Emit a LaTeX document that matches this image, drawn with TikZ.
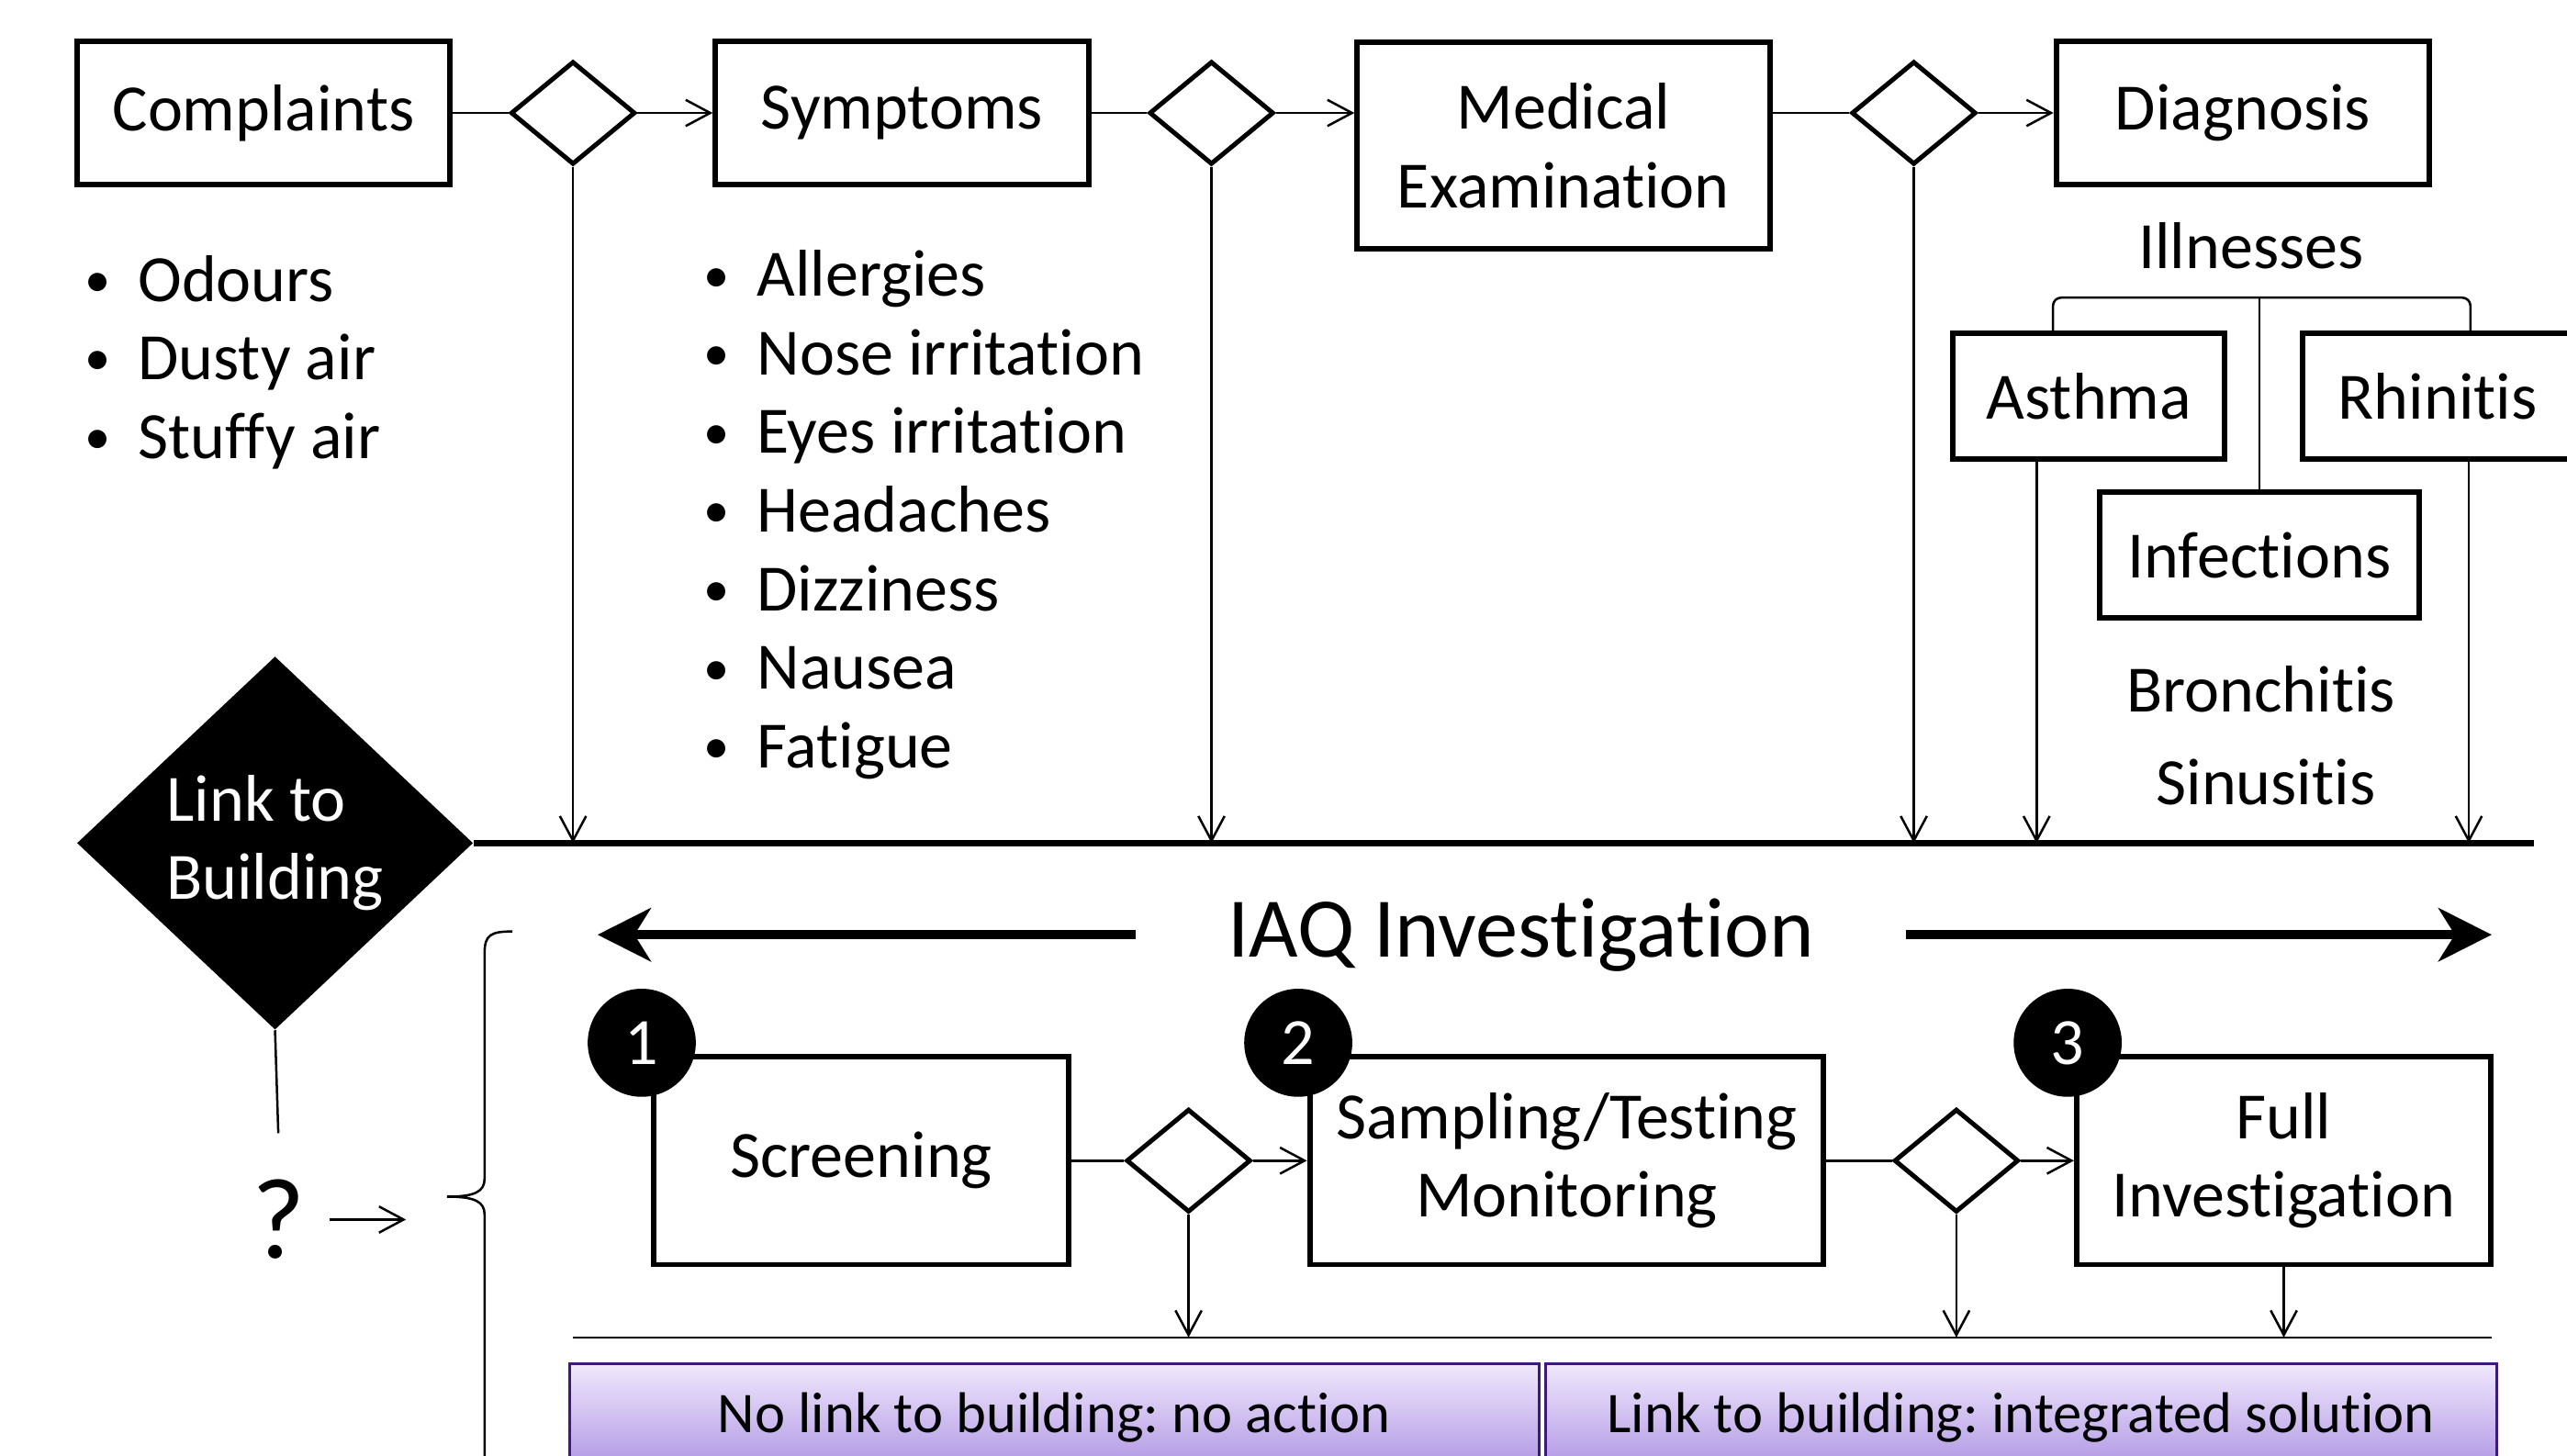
\documentclass[tikz,border=0pt]{standalone}
\usepackage{fontspec}
\setmainfont{Carlito}[Ligatures=NoCommon]
\usetikzlibrary{shapes.geometric,arrows.meta}
\definecolor{lavtop}{HTML}{F0E8FD}
\definecolor{lavbot}{HTML}{AE94E2}
\definecolor{lavline}{HTML}{3C1A78}
\newcommand{\dotmark}{\llap{\raisebox{1.5pt}{\fontsize{18}{18}\selectfont\textbullet}\hspace{.42em}}}
\frenchspacing
\begin{document}
\begin{tikzpicture}
  [x=0.2mm,y=-0.2mm,>={Straight Barb[length=3mm,width=3.2mm]},
   every node/.style={font=\fontsize{23}{27.3}\selectfont}]
  \tikzstyle{box} = [draw,line width=1.9pt,align=center,inner sep=0pt]
  \tikzstyle{stage} = [box,minimum width=45.6mm,minimum height=17.4mm]
  \tikzstyle{phase} = [box,minimum width=50.6mm,minimum height=25.4mm]
  \tikzstyle{illbox} = [box,minimum height=15.4mm]
  \tikzstyle{choice} = [diamond,draw,line width=1.6pt,minimum width=15.2mm,minimum height=12.6mm,inner sep=0pt]
  \tikzstyle{conn} = [line width=0.8pt]
  \tikzstyle{mainline} = [line width=2.2pt]
  \tikzstyle{bigarrow} = [line width=3pt,-{Stealth[length=6.5mm,width=6.5mm,inset=2mm]}]
  \tikzstyle{listitem} = [anchor=base west,inner sep=0pt]
  \tikzstyle{num} = [circle,fill=black,text=white,minimum size=13.2mm,inner sep=0pt]
  \tikzstyle{outcome} = [draw=lavline,line width=1pt,top color=lavtop,bottom color=lavbot,minimum height=13.2mm,inner sep=0pt,font=\fontsize{20}{24}\selectfont]
  \useasboundingbox (0,0) rectangle (1568,889);

  \node[stage] (compl) at (161,69) {Complaints};
  \node[stage] (sympt) at (551,69) {Symptoms};
  \node[box,minimum width=50.4mm,minimum height=25.2mm] (med) at (955,89) {Medical\\Examination};
  \node[stage] (diag) at (1370,69) {Diagnosis};
  \foreach \n/\x/\y in {d1/350/69,d2/740/69,d3/1169/69,d4/726/709,d5/1195/709}
    \node[choice] (\n) at (\x,\y) {};

  \foreach \entry [count=\i] in {Odours,Dusty air,Stuffy air}
    \node[listitem] at (84,136+48*\i) {\dotmark\entry};
  \foreach \entry [count=\i] in {Allergies,Nose irritation,Eyes irritation,Headaches,Dizziness,Nausea,Fatigue}
    \node[listitem] at (462,133+48*\i) {\dotmark\entry};

  \node (ill) at (1375,150) {Illnesses};
  \node[illbox,minimum width=33.2mm] (asth) at (1276,242) {Asthma};
  \node[illbox,minimum width=33mm] (rhin) at (1489,242) {Rhinitis};
  \node[illbox,minimum width=39mm] (infec) at (1380,339) {Infections};
  \node (bronch) at (1381,421) {Bronchitis};
  \node (sinus) at (1384,478) {Sinusitis};

  \node[diamond,fill=black,text=white,minimum width=48.4mm,minimum height=45.6mm,inner sep=0pt,align=left] (link) at (168,515) {Link to\\Building};
  \node[font=\fontsize{40}{48}\selectfont,inner xsep=8.5pt,inner ysep=16pt] (ask) at (170,745) {?};
  \node[font=\fontsize{29.5}{34}\selectfont,inner xsep=11.2mm] (iaq) at (929,571) {IAQ Investigation};

  \node[phase] (scr) at (526,709) {Screening};
  \node[phase,minimum width=62.8mm] (samp) at (957,709) {Sampling/Testing\\Monitoring};
  \node[phase] (full) at (1395,709) {Full\\Investigation};
  \foreach \k/\x in {1/392,2/793,3/1263}
    \node[num] (c\k) at (\x,637) {\k};

  \node[outcome,minimum width=118.4mm] (nolink) at (644,866) {No link to building: no action};
  \node[outcome,minimum width=116.2mm] (yeslink) at (1234.5,866) {Link to building: integrated solution};

  \coordinate (mainend) at (1548,515);
  \coordinate (rulestart) at (350,817);
  \coordinate (ruleend) at (1522,817);
  \coordinate (iaqleft) at (365,571);
  \coordinate (iaqright) at (1522,571);
  \coordinate (askto) at (248,745);
  \coordinate (asthout) at ([xshift=-6.4mm]asth.south);
  \coordinate (rhinout) at ([xshift=3.8mm]rhin.south);
  \coordinate (brleft) at ([xshift=-4.4mm]asth.north);
  \coordinate (brright) at ([xshift=4mm]rhin.north);

  \foreach \source/\dest in {compl/d1,sympt/d2,med/d3,scr/d4,samp/d5}
    \draw[conn] (\source.east |- \dest.west) -- (\dest.west);
  \foreach \source/\dest in {d1/sympt,d2/med,d3/diag,d4/samp,d5/full}
    \draw[conn,->] (\source.east) -- (\source.east -| \dest.west);
  \foreach \source in {d1.south,d2.south,d3.south,asthout,rhinout}
    \draw[conn,->] (\source) -- (\source |- link.east);
  \draw[mainline] (link.east) -- (mainend);
  \draw[conn,rounded corners=1mm] (brleft) -- ++(0,-20) -| (brright);
  \draw[conn] (infec.north) -- ++(0,-117);

  \draw[conn] (link.south) -- (ask.north);
  \draw[conn,->] (ask.east) -- (askto);
  \draw[conn] (313,569) .. controls (300,569) and (296,571) .. (296,582) -- (296,720)
    .. controls (296,728) and (290,731) .. (273,731)
    .. controls (290,731) and (296,734) .. (296,742) -- (296,900);
  \draw[bigarrow] (iaq.west) -- (iaqleft);
  \draw[bigarrow] (iaq.east) -- (iaqright);
  \foreach \source in {d4.south,d5.south,full.south}
    \draw[conn,->] (\source) -- (\source |- rulestart);
  \draw[conn] (rulestart) -- (ruleend);
\end{tikzpicture}
\end{document}
